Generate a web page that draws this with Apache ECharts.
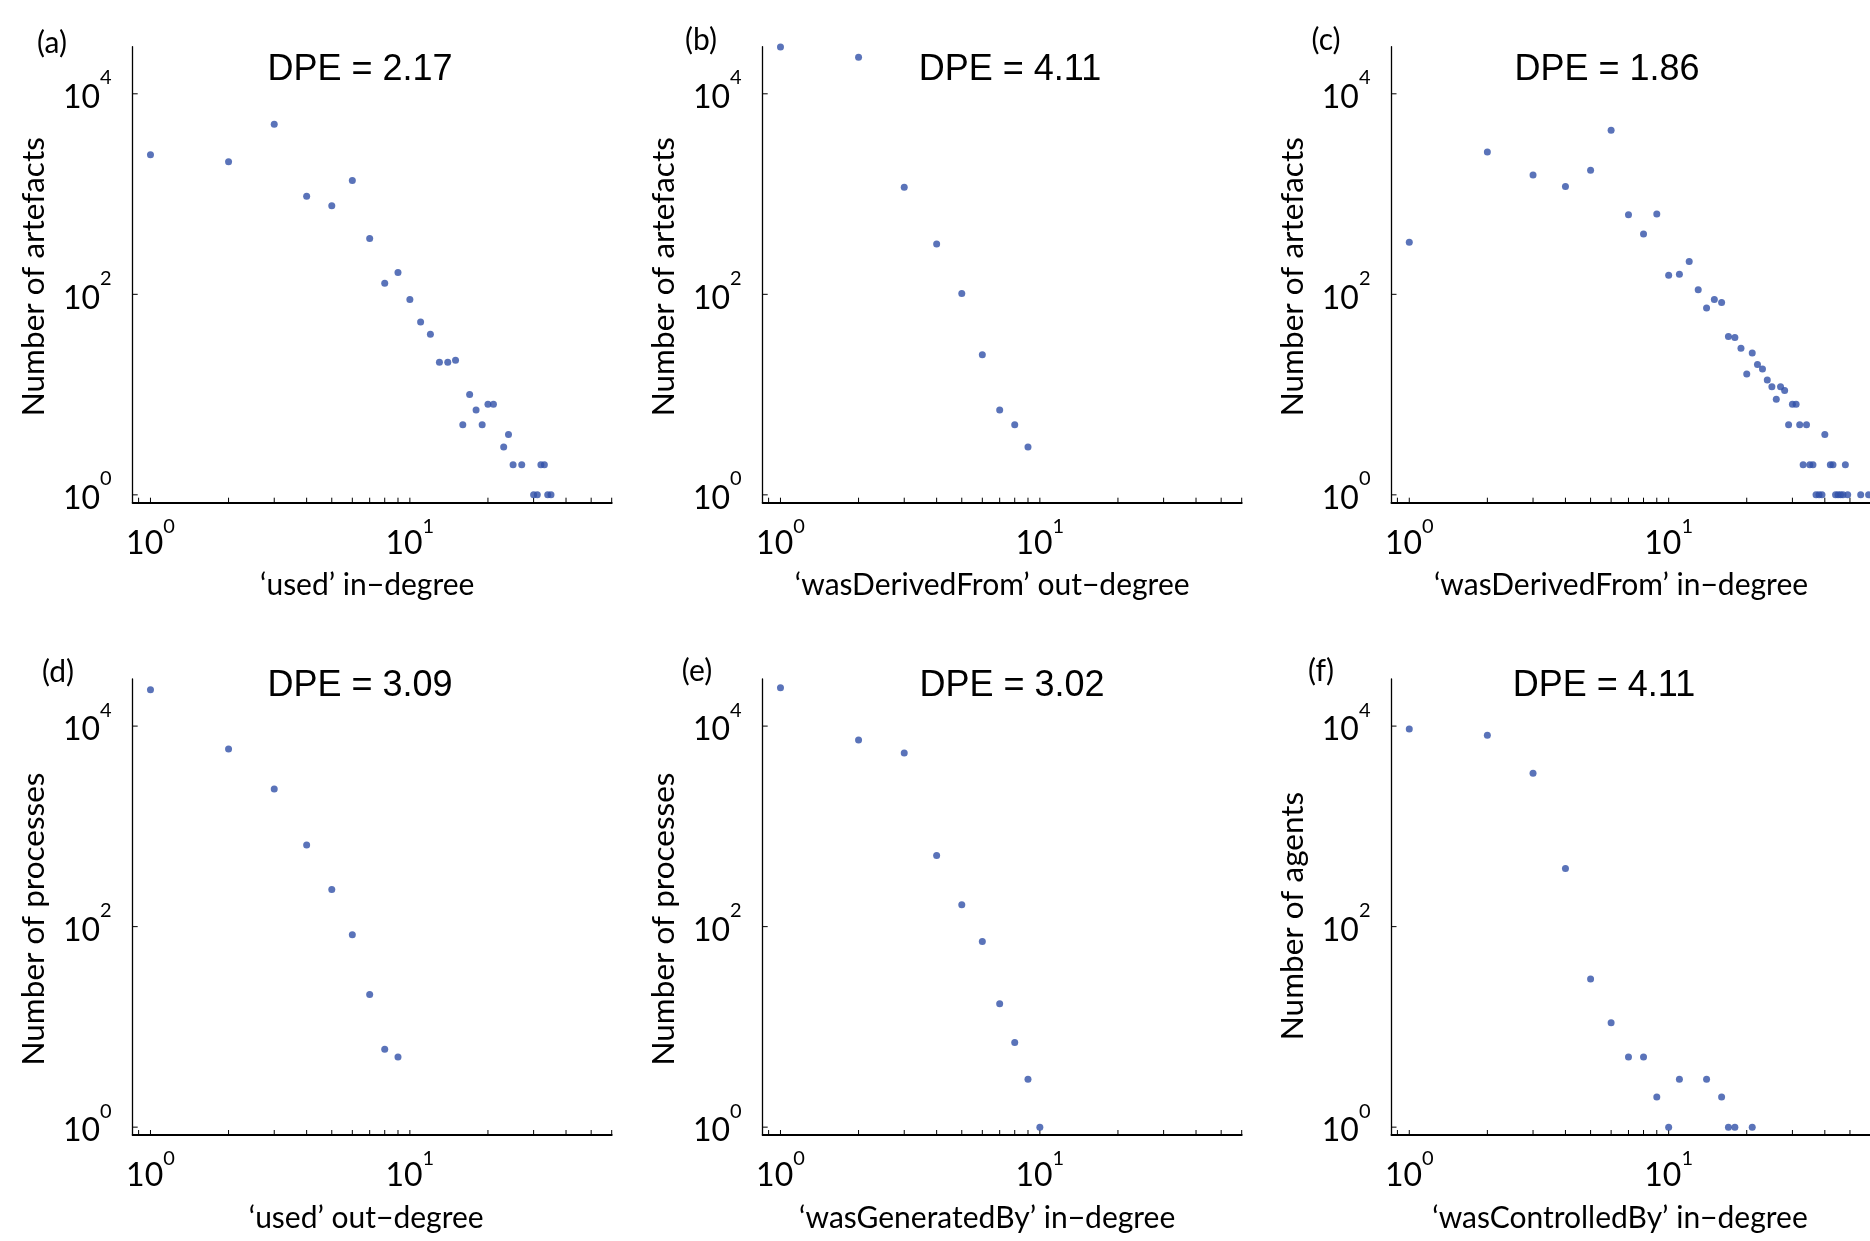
<!DOCTYPE html>
<html>
<head>
<meta charset="utf-8">
<script src="https://cdn.jsdelivr.net/npm/echarts@6/dist/echarts.min.js"></script>
<style>html,body{margin:0;padding:0;background:#fff;}#chart{width:1870px;height:1241px;}</style>
</head>
<body>
<div id="chart"></div>
<script>
// ---- data ----
const degA = [1,2,3,4,5,6,7,8,9,10,11,12,13,14,15,16,17,18,19,20,21,23,24,25,27,30,31,32,33,34,35];
const cntA = [2467,2096,4966,951,765,1368,360,129,165,89,53,40,21,21,22,5,10,7,5,8,8,3,4,2,2,1,1,2,2,1,1];

const degB = [1,2,3,4,5,6,7,8,9];
const cntB = [29300,23100,1167,318,102,25,7,5,3];

const degC = [1,2,3,4,5,6,7,8,9,10,11,12,13,14,15,16,17,18,19,20,21,22,23,24,25,26,27,28,29,30,31,32,33,34,35,36,37,38,39,40,42,43,44,45,46,47,48,49,55,59];
const cntC = [330,2625,1549,1189,1726,4325,623,399,634,155,159,213,111,73,89,83,38,37,29,16,26,20,18,14,12,9,12,11,5,8,8,5,2,5,2,2,1,1,1,4,2,2,1,1,1,1,2,1,1,1];

const degD = [1,2,3,4,5,6,7,8,9];
const cntD = [23070,5904,2359,650,235,83,21,6,5];

const degE = [1,2,3,4,5,6,7,8,9,10];
const cntE = [24150,7278,5395,513,165,71,17,7,3,1];

const degF = [1,2,3,4,5,6,7,8,9,10,11,14,16,17,18,21];
const cntF = [9380,8110,3390,380,30,11,5,5,2,1,3,3,2,1,1,1];

const panelLetters = ['(a)','(b)','(c)','(d)','(e)','(f)'];
const dpeTitles = ['DPE = 2.17','DPE = 4.11','DPE = 1.86','DPE = 3.09','DPE = 3.02','DPE = 4.11'];
const xNames = ['\u2018used\u2019 in\u2212degree','\u2018wasDerivedFrom\u2019 out\u2212degree','\u2018wasDerivedFrom\u2019 in\u2212degree',
                '\u2018used\u2019 out\u2212degree','\u2018wasGeneratedBy\u2019 in\u2212degree','\u2018wasControlledBy\u2019 in\u2212degree'];
const yNames = ['Number of artefacts','Number of artefacts','Number of artefacts','Number of processes','Number of processes','Number of agents'];
const xTickValues = [0.9,1,2,3,4,5,6,7,8,9,10,20,30,40,50,60];
const yTickValues = [1,100,10000];

const degrees = [degA,degB,degC,degD,degE,degF];
const counts = [cntA,cntB,cntC,cntD,cntE,cntF];

// ---- layout ----
const X_MIN = 0.854, X_MAX = 60, Y_MIN = 0.835, Y_MAX = 29500;
const colLeft = [132.7, 762.7, 1391.5];
const rowTop = [46.7, 679];
const GW = 479, GH = 456;
const titlePos = [[360,70],[1010,70],[1607,70],[360,686],[1012,686],[1604,686]];
const letterPos = [[52,43],[701,40],[1326,40],[58,672],[697,671],[1321,671]];
const xNameShift = [-5,-10,-10,-6,-15,-11];
const yNameShift = [2,2,2,12,12,9];
const DOT = '#3150a8';
const TICK_LEN = 5;
const FONT = 'Lato';

function xFmt(v){
  const e = Math.log10(v), r = Math.round(e);
  if (Math.abs(e - r) > 1e-6) return '';
  return '{b|10}{s|' + r + '}';
}
function yFmt(v){
  const e = Math.log10(v), r = Math.round(e);
  if (Math.abs(e - r) > 1e-6 || r % 2 !== 0) return '';
  return '{b|10}{s|' + r + '}';
}

const grids = [], xAxes = [], yAxes = [], series = [], graphics = [];
for (let i = 0; i < 6; i++) {
  const col = i % 3, row = Math.floor(i / 3);
  grids.push({left: colLeft[col], top: rowTop[row], width: GW, height: GH, containLabel: false, outerBoundsMode: 'none'});
  const xs = xNameShift[i], ys = yNameShift[i];
  xAxes.push({
    gridIndex: i, type: 'log', logBase: 10, min: X_MIN, max: X_MAX,
    axisLine: {show: true, lineStyle: {color: '#000', width: 2}},
    axisTick: {show: false}, splitLine: {show: false}, minorTick: {show: false},
    axisLabel: {show: true, formatter: xFmt, margin: 14, color: '#000',
      rich: {b: {fontSize: 32, fontFamily: FONT, color: '#000'},
             s: {fontSize: 20, fontFamily: FONT, color: '#000', padding: [0,0,33,0]}}},
    name: xNames[i], nameLocation: 'middle', nameGap: 68,
    nameTextStyle: {fontFamily: FONT, fontSize: 30, color: '#000',
      padding: xs < 0 ? [0, -2*xs, 0, 0] : [0, 0, 0, 2*xs]}
  });
  yAxes.push({
    gridIndex: i, type: 'log', logBase: 10, min: Y_MIN, max: Y_MAX,
    axisLine: {show: true, lineStyle: {color: '#000', width: 1.3}},
    axisTick: {show: false}, splitLine: {show: false}, minorTick: {show: false},
    axisLabel: {show: true, formatter: yFmt, margin: 21, color: '#000',
      rich: {b: {fontSize: 32, fontFamily: FONT, color: '#000', padding: [8,0,0,0]},
             s: {fontSize: 20, fontFamily: FONT, color: '#000', padding: [0,0,32,0]}}},
    name: yNames[i], nameLocation: 'middle', nameGap: 83,
    nameTextStyle: {fontFamily: FONT, fontSize: 31.5, color: '#000',
      padding: ys > 0 ? [0, 2*ys, 0, 0] : [0, 0, 0, -2*ys]}
  });
  series.push({
    type: 'scatter', xAxisIndex: i, yAxisIndex: i, symbol: 'circle', symbolSize: 7,
    itemStyle: {color: DOT}, clip: false, silent: true,
    data: degrees[i].map((d, k) => [d, counts[i][k]])
  });
  series.push({
    type: 'custom', xAxisIndex: i, yAxisIndex: i, silent: true, clip: false,
    data: xTickValues.map(v => [v, Y_MIN]), encode: {x: 0, y: 1},
    renderItem: function (params, api) {
      const p = api.coord([api.value(0), api.value(1)]);
      return {type: 'line', shape: {x1: p[0], y1: p[1], x2: p[0], y2: p[1] - TICK_LEN},
              style: {stroke: '#000', lineWidth: 1}};
    }
  });
  series.push({
    type: 'custom', xAxisIndex: i, yAxisIndex: i, silent: true, clip: false,
    data: yTickValues.map(v => [X_MIN, v]), encode: {x: 0, y: 1},
    renderItem: function (params, api) {
      const p = api.coord([api.value(0), api.value(1)]);
      return {type: 'line', shape: {x1: p[0], y1: p[1], x2: p[0] + TICK_LEN, y2: p[1]},
              style: {stroke: '#000', lineWidth: 1}};
    }
  });
  graphics.push({type: 'text', x: titlePos[i][0], y: titlePos[i][1], silent: true,
    style: {text: dpeTitles[i], font: '36px "Liberation Sans"', fill: '#000',
            textAlign: 'center', textVerticalAlign: 'middle', align: 'center', verticalAlign: 'middle'}});
  graphics.push({type: 'text', x: letterPos[i][0], y: letterPos[i][1], silent: true,
    style: {text: panelLetters[i], font: '30px ' + FONT, fill: '#000',
            textAlign: 'center', textVerticalAlign: 'middle', align: 'center', verticalAlign: 'middle'}});
}

const chart = echarts.init(document.getElementById('chart'), null, {renderer: 'canvas'});
chart.setOption({
  animation: false,
  backgroundColor: '#fff',
  grid: grids, xAxis: xAxes, yAxis: yAxes, series: series, graphic: graphics
});
</script>
</body>
</html>
